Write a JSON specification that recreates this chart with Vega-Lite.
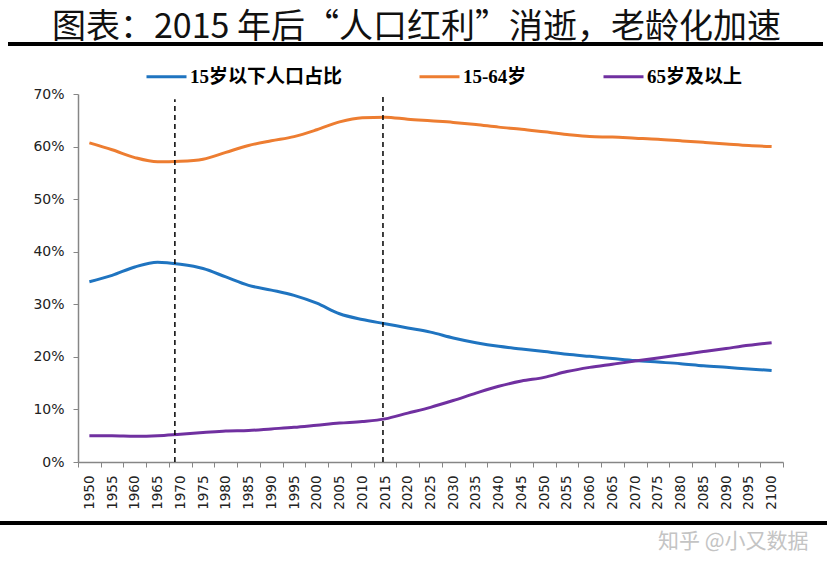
{
  "$schema": "https://vega.github.io/schema/vega-lite/v6.json",
  "width": 705,
  "height": 368,
  "autosize": {"type": "none"},
  "padding": {"left": 78, "top": 94, "right": 47, "bottom": 111},
  "background": "white",
  "config": {"view": {"stroke": null}},
  "title": {
    "text": "图表：2015 年后“人口红利”消逝，老龄化加速",
    "font": "Noto Sans CJK SC",
    "fontSize": 34,
    "fontWeight": "normal",
    "color": "#111111",
    "anchor": "middle",
    "frame": "group",
    "dx": -14,
    "dy": 51,
    "offset": 14,
    "baseline": "bottom"
  },
  "layer": [
    {
      "data": {"values": [{}]},
      "mark": {"type": "rule", "strokeWidth": 4, "color": "#000000"},
      "encoding": {"x": {"value": -70}, "x2": {"value": 745}, "y": {"value": -50}}
    },
    {
      "data": {"values": [{}]},
      "mark": {"type": "rule", "strokeWidth": 4, "color": "#000000"},
      "encoding": {"x": {"value": -78}, "x2": {"value": 749}, "y": {"value": 429}}
    },
    {
      "data": {
        "values": [
          {"year": 1950, "group": "15岁以下人口占比", "value": 0.343},
          {"year": 1955, "group": "15岁以下人口占比", "value": 0.355},
          {"year": 1960, "group": "15岁以下人口占比", "value": 0.371},
          {"year": 1965, "group": "15岁以下人口占比", "value": 0.380},
          {"year": 1970, "group": "15岁以下人口占比", "value": 0.376},
          {"year": 1975, "group": "15岁以下人口占比", "value": 0.368},
          {"year": 1980, "group": "15岁以下人口占比", "value": 0.352},
          {"year": 1985, "group": "15岁以下人口占比", "value": 0.336},
          {"year": 1990, "group": "15岁以下人口占比", "value": 0.327},
          {"year": 1995, "group": "15岁以下人口占比", "value": 0.317},
          {"year": 2000, "group": "15岁以下人口占比", "value": 0.302},
          {"year": 2005, "group": "15岁以下人口占比", "value": 0.282},
          {"year": 2010, "group": "15岁以下人口占比", "value": 0.271},
          {"year": 2015, "group": "15岁以下人口占比", "value": 0.263},
          {"year": 2020, "group": "15岁以下人口占比", "value": 0.255},
          {"year": 2025, "group": "15岁以下人口占比", "value": 0.247},
          {"year": 2030, "group": "15岁以下人口占比", "value": 0.236},
          {"year": 2035, "group": "15岁以下人口占比", "value": 0.227},
          {"year": 2040, "group": "15岁以下人口占比", "value": 0.220},
          {"year": 2045, "group": "15岁以下人口占比", "value": 0.215},
          {"year": 2050, "group": "15岁以下人口占比", "value": 0.210},
          {"year": 2055, "group": "15岁以下人口占比", "value": 0.205},
          {"year": 2060, "group": "15岁以下人口占比", "value": 0.201},
          {"year": 2065, "group": "15岁以下人口占比", "value": 0.197},
          {"year": 2070, "group": "15岁以下人口占比", "value": 0.193},
          {"year": 2075, "group": "15岁以下人口占比", "value": 0.190},
          {"year": 2080, "group": "15岁以下人口占比", "value": 0.187},
          {"year": 2085, "group": "15岁以下人口占比", "value": 0.183},
          {"year": 2090, "group": "15岁以下人口占比", "value": 0.180},
          {"year": 2095, "group": "15岁以下人口占比", "value": 0.177},
          {"year": 2100, "group": "15岁以下人口占比", "value": 0.174},
          {"year": 1950, "group": "15-64岁", "value": 0.607},
          {"year": 1955, "group": "15-64岁", "value": 0.594},
          {"year": 1960, "group": "15-64岁", "value": 0.579},
          {"year": 1965, "group": "15-64岁", "value": 0.571},
          {"year": 1970, "group": "15-64岁", "value": 0.572},
          {"year": 1975, "group": "15-64岁", "value": 0.576},
          {"year": 1980, "group": "15-64岁", "value": 0.589},
          {"year": 1985, "group": "15-64岁", "value": 0.602},
          {"year": 1990, "group": "15-64岁", "value": 0.611},
          {"year": 1995, "group": "15-64岁", "value": 0.619},
          {"year": 2000, "group": "15-64岁", "value": 0.632},
          {"year": 2005, "group": "15-64岁", "value": 0.647},
          {"year": 2010, "group": "15-64岁", "value": 0.655},
          {"year": 2015, "group": "15-64岁", "value": 0.656},
          {"year": 2020, "group": "15-64岁", "value": 0.652},
          {"year": 2025, "group": "15-64岁", "value": 0.649},
          {"year": 2030, "group": "15-64岁", "value": 0.646},
          {"year": 2035, "group": "15-64岁", "value": 0.642},
          {"year": 2040, "group": "15-64岁", "value": 0.637},
          {"year": 2045, "group": "15-64岁", "value": 0.633},
          {"year": 2050, "group": "15-64岁", "value": 0.628},
          {"year": 2055, "group": "15-64岁", "value": 0.623},
          {"year": 2060, "group": "15-64岁", "value": 0.619},
          {"year": 2065, "group": "15-64岁", "value": 0.618},
          {"year": 2070, "group": "15-64岁", "value": 0.616},
          {"year": 2075, "group": "15-64岁", "value": 0.614},
          {"year": 2080, "group": "15-64岁", "value": 0.611},
          {"year": 2085, "group": "15-64岁", "value": 0.608},
          {"year": 2090, "group": "15-64岁", "value": 0.605},
          {"year": 2095, "group": "15-64岁", "value": 0.602},
          {"year": 2100, "group": "15-64岁", "value": 0.600},
          {"year": 1950, "group": "65岁及以上", "value": 0.050},
          {"year": 1955, "group": "65岁及以上", "value": 0.050},
          {"year": 1960, "group": "65岁及以上", "value": 0.049},
          {"year": 1965, "group": "65岁及以上", "value": 0.050},
          {"year": 1970, "group": "65岁及以上", "value": 0.053},
          {"year": 1975, "group": "65岁及以上", "value": 0.056},
          {"year": 1980, "group": "65岁及以上", "value": 0.059},
          {"year": 1985, "group": "65岁及以上", "value": 0.060},
          {"year": 1990, "group": "65岁及以上", "value": 0.063},
          {"year": 1995, "group": "65岁及以上", "value": 0.066},
          {"year": 2000, "group": "65岁及以上", "value": 0.070},
          {"year": 2005, "group": "65岁及以上", "value": 0.074},
          {"year": 2010, "group": "65岁及以上", "value": 0.077},
          {"year": 2015, "group": "65岁及以上", "value": 0.082},
          {"year": 2020, "group": "65岁及以上", "value": 0.093},
          {"year": 2025, "group": "65岁及以上", "value": 0.104},
          {"year": 2030, "group": "65岁及以上", "value": 0.117},
          {"year": 2035, "group": "65岁及以上", "value": 0.131},
          {"year": 2040, "group": "65岁及以上", "value": 0.144},
          {"year": 2045, "group": "65岁及以上", "value": 0.154},
          {"year": 2050, "group": "65岁及以上", "value": 0.161},
          {"year": 2055, "group": "65岁及以上", "value": 0.172},
          {"year": 2060, "group": "65岁及以上", "value": 0.180},
          {"year": 2065, "group": "65岁及以上", "value": 0.186},
          {"year": 2070, "group": "65岁及以上", "value": 0.192},
          {"year": 2075, "group": "65岁及以上", "value": 0.198},
          {"year": 2080, "group": "65岁及以上", "value": 0.204},
          {"year": 2085, "group": "65岁及以上", "value": 0.210},
          {"year": 2090, "group": "65岁及以上", "value": 0.216},
          {"year": 2095, "group": "65岁及以上", "value": 0.222},
          {"year": 2100, "group": "65岁及以上", "value": 0.227}
        ]
      },
      "mark": {"type": "line", "strokeWidth": 3, "interpolate": "monotone"},
      "encoding": {
        "x": {
          "field": "year",
          "type": "ordinal",
          "scale": {"type": "band", "paddingInner": 0, "paddingOuter": 0},
          "axis": {
            "title": "知乎 @小又数据",
            "titleX": 730,
            "titleY": 79,
            "titleAlign": "right",
            "titleBaseline": "middle",
            "titleAngle": 0,
            "titleFont": "Noto Sans CJK SC",
            "titleFontSize": 21,
            "titleFontWeight": "normal",
            "titleColor": "#c4c4c4",
            "labelAngle": -90,
            "labelFont": "DejaVu Sans",
            "labelFontSize": 13.5,
            "labelColor": "#222222",
            "labelPadding": 8,
            "tickBand": "extent",
            "tickSize": 5,
            "tickColor": "#868686",
            "domainColor": "#868686",
            "domainWidth": 1.5,
            "grid": false
          }
        },
        "y": {
          "field": "value",
          "type": "quantitative",
          "scale": {"domain": [0, 0.7], "nice": false},
          "axis": {
            "title": null,
            "format": ".0%",
            "values": [0, 0.1, 0.2, 0.3, 0.4, 0.5, 0.6, 0.7],
            "labelFont": "DejaVu Sans",
            "labelFontSize": 14,
            "labelColor": "#222222",
            "labelPadding": 9,
            "tickSize": 5,
            "tickColor": "#868686",
            "domainColor": "#868686",
            "domainWidth": 1.5,
            "grid": false
          }
        },
        "color": {
          "field": "group",
          "type": "nominal",
          "scale": {
            "domain": ["15岁以下人口占比", "15-64岁", "65岁及以上"],
            "range": ["#1f74c0", "#ed7d31", "#7030a0"]
          },
          "legend": {
            "title": null,
            "orient": "none",
            "direction": "horizontal",
            "legendX": 67,
            "legendY": -39,
            "symbolType": "stroke",
            "symbolSize": 1600,
            "symbolStrokeWidth": 3,
            "labelFont": "Liberation Serif, Noto Sans CJK SC",
            "labelFontSize": 19,
            "labelFontWeight": "bold",
            "labelColor": "#000000",
            "labelOffset": 2,
            "columnPadding": 70
          }
        }
      }
    },
    {
      "data": {"values": [{"year": 1970}]},
      "mark": {"type": "rule", "strokeDash": [5, 4], "strokeWidth": 1.5, "color": "#000000"},
      "encoding": {
        "x": {"field": "year", "type": "ordinal", "bandPosition": 0.26},
        "y": {"datum": 0},
        "y2": {"datum": 0.69}
      }
    },
    {
      "data": {"values": [{"year": 2015}]},
      "mark": {"type": "rule", "strokeDash": [5, 4], "strokeWidth": 1.5, "color": "#000000"},
      "encoding": {
        "x": {"field": "year", "type": "ordinal", "bandPosition": 0.41},
        "y": {"datum": 0},
        "y2": {"datum": 0.7}
      }
    }
  ]
}
